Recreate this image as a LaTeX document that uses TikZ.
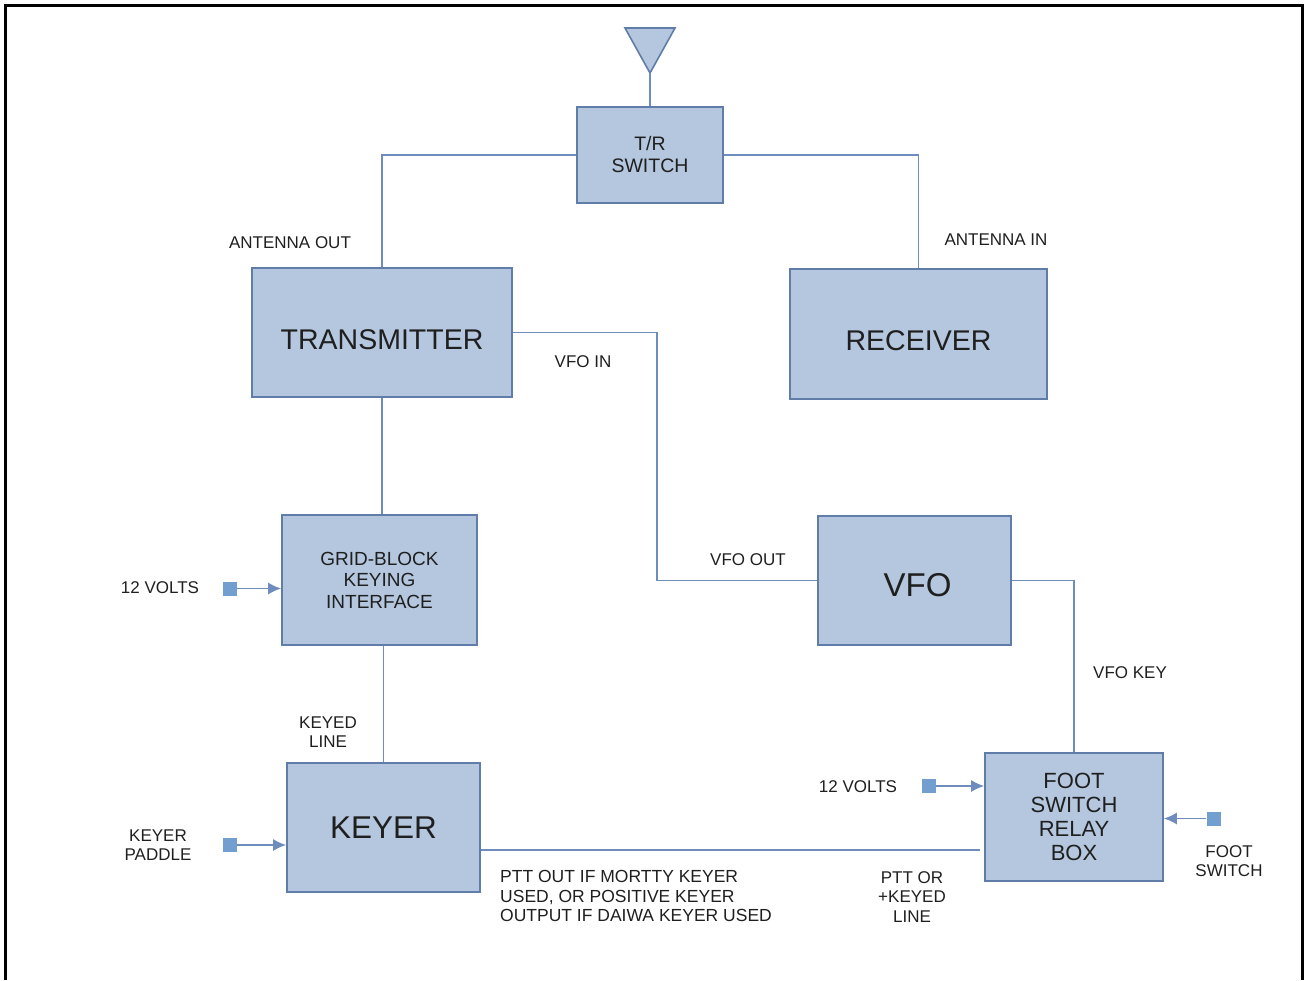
\documentclass[tikz,border=0pt]{standalone}
\usepackage{fontspec}
\setmainfont{Liberation Sans}
\usetikzlibrary{arrows.meta}

\definecolor{boxfill}{RGB}{180,199,222}
\definecolor{boxline}{RGB}{96,125,170}
\definecolor{wirecol}{RGB}{110,140,190}
\definecolor{termcol}{RGB}{114,159,207}

\begin{document}
\begin{tikzpicture}[x=1pt,y=-1pt,
  block/.style={draw=boxline,fill=boxfill,line width=1.6pt,inner sep=0pt,align=center,text=black!88},
  lbl/.style={align=center,font=\fontsize{17}{19.5}\selectfont,inner sep=0pt,text=black!88},
  wire/.style={draw=wirecol,line width=1.7pt},
  term/.style={fill=termcol,inner sep=0pt,minimum size=14pt},
  feed/.style={wire,-{Latex[length=13pt,width=12pt]}}]
\useasboundingbox (0,0) rectangle (1305,980);

% frame, open at the bottom
\draw[line width=3pt] (5.5,980) -- (5.5,5.5) -- (1302,5.5) -- (1302,980);

% blocks
\node[block,minimum width=146pt,minimum height=96pt,font=\fontsize{19.5}{22}\selectfont] (tr) at (650,155) {T/R\\SWITCH};
\node[block,minimum width=260pt,minimum height=129pt,text height=34pt,text depth=0pt,font=\fontsize{28.5}{30}\selectfont] (tx) at (382,332.5) {TRANSMITTER};
\node[block,minimum width=257pt,minimum height=130pt,text height=32pt,text depth=0pt,font=\fontsize{28.5}{30}\selectfont] (rx) at (918.5,334) {RECEIVER};
\node[block,minimum width=195pt,minimum height=130pt,font=\fontsize{19}{21.5}\selectfont] (grid) at (379.5,580) {GRID-BLOCK\\KEYING\\INTERFACE};
\node[block,minimum width=193pt,minimum height=129pt,text height=32.5pt,text depth=0pt,font=\fontsize{33}{34}\selectfont] (vfo) at (914.5,580.5) {\hspace{6pt}VFO};
\node[block,minimum width=193pt,minimum height=129pt,font=\fontsize{31.5}{34}\selectfont] (keyer) at (383.5,827.5) {KEYER};
\node[block,minimum width=178pt,minimum height=128pt,font=\fontsize{22}{24}\selectfont] (foot) at (1074,817) {FOOT\\SWITCH\\RELAY\\BOX};

% antenna
\coordinate (ant) at (650,73);
\filldraw[fill=boxfill,draw=boxline,line width=1.6pt] (625,28) -- (675,28) -- (ant) -- cycle;

% supply and key terminals
\node[term] (volts1) at (229.5,588.5) {};
\node[term] (paddle) at (229.5,845) {};
\node[term] (volts2) at (928.5,786) {};
\node[term] (fsw) at (1213.5,818.5) {};

\coordinate (bend) at (657,460);
\coordinate (ptt) at (980,850);

% connections
\draw[wire] (ant) -- (tr.north);
\draw[wire] (tr.west) -| (tx.north);
\draw[wire] (tr.east) -| (rx.north);
\draw[wire] (tx.east) -| (bend) |- (vfo.west);
\draw[wire] (vfo.east) -| (foot.north);
\draw[wire] (tx.south) -- (tx.south |- grid.north);
\draw[wire] (keyer.north |- grid.south) -- (keyer.north);
\draw[wire] (keyer.east |- ptt) -- (ptt);
\draw[feed] (volts1) -- (volts1 -| grid.west);
\draw[feed] (paddle) -- (paddle -| keyer.west);
\draw[feed] (volts2) -- (volts2 -| foot.west);
\draw[feed] (fsw) -- (fsw -| foot.east);

% labels
\node[lbl] (antout) at (290,243) {ANTENNA OUT};
\node[lbl] (antin) at (996,240) {ANTENNA IN};
\node[lbl] (vfoin) at (583,362) {VFO IN};
\node[lbl] (vfoout) at (748,560) {VFO OUT};
\node[lbl] (vfokey) at (1130,673) {VFO KEY};
\node[lbl] (volts1lbl) at (160,588) {12 VOLTS};
\node[lbl] (keyedline) at (328,732) {KEYED\\LINE};
\node[lbl] (paddlelbl) at (158,845) {KEYER\\PADDLE};
\node[lbl] (volts2lbl) at (858,787) {12 VOLTS};
\node[lbl] (fswlbl) at (1229,861) {FOOT\\SWITCH};
\node[lbl] (pttor) at (912,897) {PTT OR\\+KEYED\\LINE};
\node[lbl,anchor=west,align=left,font=\fontsize{17.5}{19.5}\selectfont] (pttout) at (500,896) {PTT OUT IF MORTTY KEYER\\USED, OR POSITIVE KEYER\\OUTPUT IF DAIWA KEYER USED};
\end{tikzpicture}
\end{document}
